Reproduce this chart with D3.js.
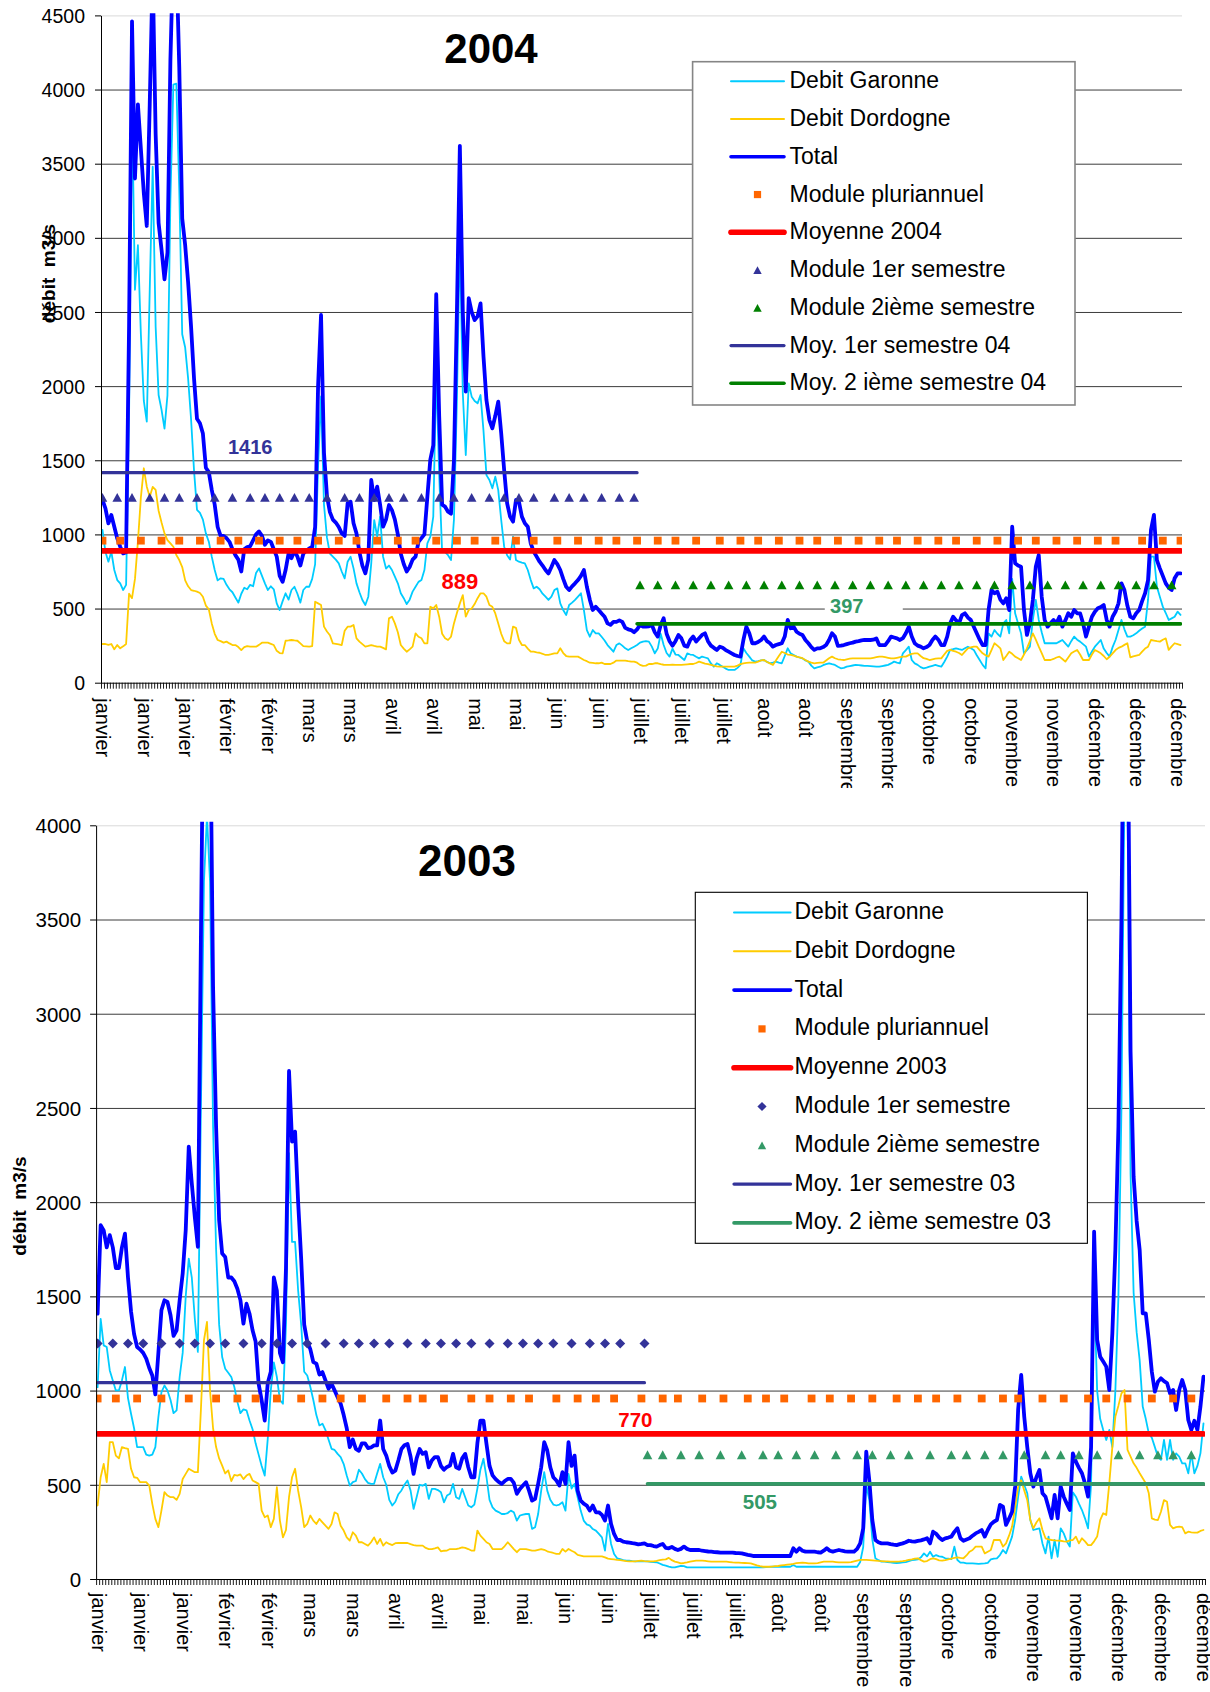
<!DOCTYPE html>
<html>
<head>
<meta charset="utf-8">
<script src="https://cdn.jsdelivr.net/npm/d3@7/dist/d3.min.js"></script>
<style>
  html, body { margin: 0; padding: 0; background: #fff; }
  svg text { font-family: "Liberation Sans", Arial, Helvetica, sans-serif; }
</style>
</head>
<body>
<svg id="chart" width="1210" height="1692"></svg>
<script>
// ---------------------------------------------------------------------------
// Daily river flows (m3/s), one value per day of the year, index = day - 1.
// ---------------------------------------------------------------------------

// 2004 (leap year, 366 days)
const total2004 = [
  1232,1176,1075,1131,1052,973,917,872,880,2400,
  4460,3400,3900,3600,3300,3080,3900,4800,3700,3100,
  2920,2720,2900,4200,4950,4900,4150,3130,2950,2700,
  2400,2050,1780,1750,1680,1450,1420,1300,1200,1050,
  990,990,975,950,900,860,830,750,900,915,
  920,960,1000,1020,990,930,960,950,900,850,
  720,680,760,870,840,890,850,790,870,890,
  905,915,1050,2000,2480,1550,1260,1150,1100,1080,
  1050,1007,990,1210,1221,1075,1007,880,790,737,
  830,1367,1232,1322,1200,1052,1100,1198,1164,1100,
  1000,870,800,750,780,830,850,950,975,1000,
  1254,1505,1600,2620,1800,1200,1187,1153,1140,1500,
  2500,3620,2500,1963,2593,2500,2445,2470,2558,2200,
  1906,1771,1715,1800,1895,1681,1434,1210,1120,1086,
  1232,1221,1120,1075,1052,940,884,850,816,790,
  760,737,780,827,800,760,700,647,625,650,
  670,692,720,760,647,560,490,512,490,467,
  445,400,390,410,410,420,410,370,360,355,
  340,360,389,378,378,380,389,340,311,389,
  434,330,280,250,280,322,299,250,243,288,
  311,277,300,322,333,280,250,235,221,243,
  235,220,209,198,187,180,176,288,378,333,
  266,266,275,288,311,280,266,243,254,260,
  266,311,423,367,378,344,330,322,288,266,
  240,221,232,232,240,254,288,333,311,248,
  250,254,260,266,270,277,280,285,288,288,
  288,290,299,254,254,254,280,311,305,299,
  288,300,333,378,311,266,250,243,232,240,
  254,288,311,290,254,254,311,400,445,420,
  400,456,468,440,423,378,333,290,254,254,
  490,625,603,614,560,535,569,490,1052,805,
  790,782,490,322,400,558,782,861,580,423,
  378,400,423,400,445,378,420,468,445,490,
  468,468,400,311,380,445,479,502,510,524,
  423,378,445,480,535,670,625,520,445,434,
  468,490,550,603,692,1030,1131,827,771,720,
  670,640,625,704,737,737
];

const garonne2004 = [
  1030,883,816,883,760,692,670,625,660,1800,
  3890,2650,2950,2350,1900,1760,2650,3480,2400,1940,
  1840,1713,1938,3260,4033,4040,3320,2350,2260,2050,
  1775,1430,1166,1145,1100,1007,951,850,760,690,
  704,700,660,630,610,575,540,600,640,630,
  660,650,740,771,720,670,625,650,630,535,
  490,550,603,560,625,647,600,540,625,647,
  647,700,800,1460,1930,1200,980,870,850,830,
  805,750,704,816,850,771,670,610,558,524,
  580,805,1097,985,1120,850,770,790,760,715,
  670,603,570,530,560,614,647,680,692,760,
  940,985,1120,2100,1400,880,880,860,827,1100,
  1900,3000,1950,1535,2019,1929,1900,1884,1940,1700,
  1400,1367,1311,1389,1299,1097,917,860,830,985,
  827,816,810,805,760,692,636,647,630,600,
  580,558,580,625,636,535,490,456,524,540,
  558,580,603,490,355,310,355,333,333,310,
  285,254,232,209,254,265,250,232,220,232,
  243,254,270,277,280,277,243,198,230,330,
  254,200,176,230,190,187,170,153,198,190,
  187,175,164,176,170,164,130,108,131,120,
  108,95,86,86,86,100,120,232,200,176,
  150,142,145,150,153,140,131,136,142,136,
  131,180,232,198,187,176,170,164,150,142,
  115,97,103,108,118,125,131,125,120,108,
  97,100,108,112,116,120,118,116,114,113,
  112,110,108,108,112,116,120,130,142,136,
  131,198,220,243,153,130,120,105,97,102,
  108,114,120,114,108,140,176,221,226,232,
  226,221,232,243,232,221,185,153,120,97,
  333,311,355,330,311,400,423,333,700,468,
  400,333,198,220,243,423,558,423,340,266,
  266,266,266,266,277,288,265,243,280,311,
  290,277,260,243,176,210,243,265,288,230,
  200,176,240,288,355,423,360,311,311,320,
  333,350,365,378,558,850,850,647,580,513,
  470,423,434,445,479,457
];

const dordogne2004 = [
  261,261,255,261,225,254,232,245,261,600,
  570,700,950,1250,1446,1322,1254,1320,1300,1160,
  1080,1007,962,940,917,861,827,780,690,650,
  625,620,614,605,580,520,495,400,330,288,
  280,270,277,265,254,254,240,220,240,247,
  243,243,243,255,270,270,270,262,254,215,
  200,198,283,285,288,285,283,265,247,245,
  243,247,546,535,524,378,345,320,265,262,
  259,254,350,378,378,389,299,277,260,243,
  248,254,248,243,243,235,225,434,445,400,
  340,254,230,209,225,243,333,310,300,265,
  265,512,501,524,445,330,300,288,310,400,
  470,535,591,445,490,500,530,570,603,603,
  580,524,512,467,400,330,280,265,265,378,
  370,290,254,254,230,209,209,205,202,195,
  187,187,192,198,198,232,200,180,176,176,
  176,176,165,153,145,135,133,131,131,135,
  126,126,126,135,149,149,149,149,145,142,
  142,135,120,113,115,126,126,131,131,125,
  121,120,120,122,120,120,120,122,124,126,
  126,133,142,135,128,125,120,115,110,108,
  108,108,108,108,108,115,125,131,133,135,
  135,135,142,150,153,140,130,120,150,180,
  209,200,190,187,182,176,170,165,153,142,
  135,131,133,135,135,150,165,176,165,158,
  155,153,158,162,164,164,164,164,164,164,
  164,168,172,176,176,172,168,164,164,168,
  172,176,176,186,195,198,198,180,165,160,
  153,158,162,164,164,190,215,221,215,209,
  200,187,210,232,238,243,243,220,198,185,
  176,220,266,250,232,153,180,209,195,176,
  165,153,190,232,280,333,290,243,200,153,
  153,153,160,170,176,160,142,170,198,210,
  221,190,153,153,153,190,221,210,198,180,
  158,175,198,220,235,243,255,266,171,178,
  183,187,210,230,243,288,284,280,277,290,
  299,221,245,266,260,254
];

// 2003 (365 days)
const total2003 = [
  1408,1878,1850,1760,1825,1760,1650,1650,1760,1833,
  1600,1420,1300,1231,1218,1200,1170,1120,1080,980,
  1200,1426,1479,1470,1400,1290,1320,1479,1621,1851,
  2295,2100,1920,1763,3400,5000,5400,4700,3144,2400,
  1904,1727,1709,1600,1600,1580,1540,1480,1355,1461,
  1408,1320,1260,1036,948,841,1040,1100,1600,1530,
  1200,1150,1650,2696,2321,2374,2000,1700,1350,1260,
  1220,1151,1143,1085,1098,1054,1010,1036,1001,965,
  930,870,800,700,740,690,680,720,720,695,
  698,709,709,841,690,655,600,565,575,630,
  690,710,717,650,558,640,690,664,673,593,
  629,647,647,600,580,595,602,664,593,585,
  640,664,593,540,540,720,841,841,717,600,
  550,530,515,505,520,531,531,510,452,478,
  496,514,469,416,425,505,593,726,682,593,
  540,523,496,567,505,726,600,655,469,416,
  400,390,363,390,354,354,340,310,390,292,
  239,207,207,198,195,193,190,188,184,186,
  189,180,180,175,172,180,186,165,163,170,
  160,154,160,172,160,154,154,154,154,150,
  148,146,145,143,142,140,140,140,140,140,
  138,137,136,132,128,125,122,122,122,122,
  122,122,122,122,122,122,122,122,122,163,
  145,163,150,145,145,145,145,142,140,150,
  163,150,145,150,154,150,147,145,145,145,
  160,189,269,676,525,313,207,195,189,189,
  189,185,182,180,185,189,195,203,200,198,
  202,205,210,216,189,251,240,220,207,216,
  220,225,250,269,216,203,210,216,230,242,
  250,260,225,260,290,304,313,393,384,287,
  320,357,490,900,1083,862,700,561,490,540,
  579,455,437,380,322,446,322,490,437,400,
  366,667,623,590,561,508,437,700,1844,1269,
  1180,1154,1127,1003,1304,1750,2400,3500,5200,4800,
  2800,2135,1900,1746,1410,1410,1269,1100,994,1047,
  1065,1050,1040,985,1003,897,1003,1056,1003,844,
  791,840,791,915,1074
];

const garonne2003 = [
  1018,1380,1240,1231,1107,1054,1001,1001,1054,1125,
  960,877,800,700,700,700,660,655,660,700,
  859,990,1027,1000,950,880,895,1072,1200,1500,
  1700,1600,1380,1205,2500,3700,4050,3700,2400,1750,
  1350,1178,1116,1095,1072,1019,940,880,900,895,
  841,795,720,660,600,549,744,1001,1150,1072,
  950,930,1350,2260,1789,1789,1531,1350,1100,1080,
  1020,950,870,815,824,790,740,691,685,664,
  647,610,549,496,514,520,580,560,530,510,
  505,505,560,611,540,500,420,390,410,450,
  470,500,523,470,372,434,500,495,505,425,
  478,478,472,460,407,443,452,505,434,425,
  478,434,390,381,395,480,580,638,540,420,
  380,363,355,345,345,350,363,354,310,337,
  342,345,345,266,275,345,469,567,469,420,
  395,390,395,407,363,558,480,505,434,363,
  310,290,283,265,257,239,221,151,292,186,
  133,110,106,100,97,97,95,94,94,94,
  94,93,91,90,89,82,75,71,66,62,
  62,66,70,68,62,62,62,62,62,62,
  62,62,62,62,62,62,62,62,62,62,
  62,62,62,62,62,62,62,62,62,62,
  63,64,65,65,65,65,65,65,65,74,
  65,65,65,65,65,65,65,65,65,65,
  65,65,65,65,65,65,65,65,65,65,
  65,90,170,500,420,210,110,100,92,92,
  90,88,86,85,86,88,90,95,100,102,
  104,115,136,120,145,118,127,120,118,110,
  108,105,172,101,87,87,83,83,83,82,
  80,82,83,86,104,108,110,127,154,136,
  180,225,313,437,543,500,455,313,260,265,
  269,189,136,225,110,207,118,269,242,200,
  172,460,437,400,366,322,269,500,1550,1000,
  850,791,738,791,700,1000,1500,2500,4200,4100,
  2150,1520,1310,1160,915,850,773,750,700,649,
  632,738,632,738,632,667,650,614,614,561,
  667,561,600,667,826
];

const dordogne2003 = [
  390,540,611,514,726,726,655,640,700,695,
  691,585,540,537,514,514,514,496,399,319,
  275,363,461,443,434,434,420,452,531,558,
  585,576,567,567,900,1267,1364,1000,800,700,
  640,602,560,576,520,553,549,555,530,549,
  558,523,514,505,363,328,337,275,319,487,
  310,221,260,434,540,585,469,381,275,292,
  337,310,292,319,301,283,266,292,354,345,
  283,257,221,204,248,230,195,195,186,177,
  195,221,186,213,177,195,186,180,190,191,
  191,191,191,185,180,177,177,177,165,159,
  159,163,168,147,150,151,159,159,159,163,
  168,165,159,151,151,257,230,213,195,186,
  159,159,159,159,175,195,177,159,142,159,
  159,159,155,151,151,155,159,155,147,142,
  138,133,133,159,145,159,150,142,128,124,
  120,120,120,120,120,120,120,115,108,106,
  104,101,100,97,95,94,94,94,96,97,
  95,94,94,94,96,100,103,104,112,100,
  92,88,83,85,88,92,95,97,97,97,
  96,94,92,92,92,92,92,92,90,88,
  87,87,86,85,84,83,78,72,68,65,
  65,65,66,68,69,72,74,76,78,80,
  84,86,87,86,83,83,83,84,88,92,
  92,92,92,90,88,88,88,88,90,94,
  98,101,101,101,100,99,98,96,95,94,
  93,92,92,92,93,95,98,102,104,108,
  110,100,92,95,105,110,105,99,97,100,
  104,108,112,115,112,110,125,145,154,172,
  172,172,136,145,154,207,207,207,172,189,
  230,278,380,490,525,470,419,313,269,300,
  322,260,216,210,207,205,204,203,200,198,
  205,207,225,189,216,200,180,180,200,225,
  313,349,340,508,700,862,920,985,1003,685,
  650,614,590,561,535,508,455,322,315,313,
  357,419,410,287,269,275,278,275,242,251,
  248,246,246,255,260
];

// Category labels shown every 14 days along the date axis
const months2004 = ['janvier','janvier','janvier','février','février','mars','mars','avril','avril',
  'mai','mai','juin','juin','juillet','juillet','juillet','août','août','septembre','septembre',
  'octobre','octobre','novembre','novembre','décembre','décembre','décembre'];
const months2003 = ['janvier','janvier','janvier','février','février','mars','mars','avril','avril',
  'mai','mai','juin','juin','juillet','juillet','juillet','août','août','septembre','septembre',
  'octobre','octobre','novembre','novembre','décembre','décembre','décembre'];
const labelEvery = 14;

// Reference flows (m3/s)
const modulePluriannuel = 958;
const module1erSemestre = 1250;
const module2emeSemestre = 660;

const moyenne2004 = 889, moy1erSem2004 = 1416, moy2emeSem2004 = 397;
const moyenne2003 = 770, moy1erSem2003 = 1042, moy2emeSem2003 = 505;

// Days on which the reference modules are plotted
const pluriDays2004 = [0,6,13,20,26,33,40,46,53,60,66,73,80,86,93,100,106,113,120,126,133,140,146,154,161,168,174,
  181,188,194,201,209,216,222,229,236,242,249,256,263,269,276,283,289,296,303,310,316,323,330,337,343,352,359,365];
const mod1Days2004 = [0,5,10,16,21,26,32,38,44,50,55,60,65,70,76,82,87,92,97,102,108,114,119,125,131,136,141,146,
  153,158,163,169,175,180];
const mod2Days2004 = [182,188,194,200,206,212,218,224,230,236,242,248,254,260,266,272,278,284,290,296,302,308,314,
  320,326,332,338,344,350,356,362];

const pluriDays2003 = [0,6,13,21,30,39,46,52,59,67,74,80,87,95,102,107,114,123,129,136,142,151,158,164,170,179,186,
  191,199,206,214,220,226,235,241,248,255,263,270,276,283,291,298,303,311,318,326,332,339,347,354,360];
const mod1Days2003 = [0,5,10,15,21,27,32,37,42,48,54,59,64,69,75,81,86,91,96,102,108,113,118,123,129,135,140,145,
  150,156,162,167,172,180];
const mod2Days2003 = [181,186,192,198,205,212,219,224,230,236,243,250,255,261,267,274,281,286,292,298,305,312,317,
  323,329,336,343,349,354,360];

const legend2004 = ['Debit Garonne','Debit Dordogne','Total','Module pluriannuel','Moyenne 2004',
  'Module 1er semestre','Module 2ième semestre','Moy. 1er semestre 04','Moy. 2 ième semestre 04'];
const legend2003 = ['Debit Garonne','Debit Dordogne','Total','Module pluriannuel','Moyenne 2003',
  'Module 1er semestre','Module 2ième semestre','Moy. 1er semestre 03','Moy. 2 ième semestre 03'];

// ---------------------------------------------------------------------------
const svg = d3.select('#chart');
svg.append('rect').attr('width', 1210).attr('height', 1692).attr('fill', '#fff');
const defs = svg.append('defs');

const COLORS = {
  garonne: '#00CCFF', dordogne: '#FFCC00', total: '#0000FF',
  pluri: '#FF6600', moyenne: '#FF0000', navy: '#333399'
};

function trianglePath(w, h) { return `M0,${-h / 2}L${w / 2},${h / 2}L${-w / 2},${h / 2}Z`; }
function diamondPath(r) { return `M0,${-r}L${r},0L0,${r}L${-r},0Z`; }

function drawPanel(p) {
  const n = p.total.length;
  const x = d3.scaleLinear().domain([0, n]).range([p.left, p.right]);
  const y = d3.scaleLinear().domain([0, p.yMax]).range([p.bottom, p.top]);
  const cx = d => x(d + 0.5);

  defs.append('clipPath').attr('id', 'plot-' + p.id).append('rect')
    .attr('x', p.left).attr('y', p.top - p.clipPad)
    .attr('width', p.right - p.left).attr('height', p.bottom - p.top + p.clipPad);
  defs.append('clipPath').attr('id', 'lab-' + p.id).append('rect')
    .attr('x', 0).attr('y', p.bottom + 8).attr('width', 1210).attr('height', p.labelClip - p.bottom - 8);

  const g = svg.append('g');

  // horizontal gridlines
  const grid = g.append('g').attr('transform', `translate(${p.left},0)`)
    .call(d3.axisLeft(y).tickValues(d3.range(500, p.yMax + 1, 500))
      .tickSize(-(p.right - p.left)).tickFormat(''));
  grid.select('.domain').remove();
  grid.selectAll('.tick line')
    .attr('stroke', d => d === p.yMax ? '#d9d9d9' : '#3c3c3c')
    .attr('stroke-width', 1);

  // flow series
  const plot = g.append('g').attr('clip-path', `url(#plot-${p.id})`);
  const line = d3.line().x((v, i) => cx(i)).y(v => y(v));
  [[p.garonne, COLORS.garonne, 1.8], [p.dordogne, COLORS.dordogne, 1.8], [p.total, COLORS.total, 3.8]]
    .forEach(([data, color, w]) => {
      plot.append('path').datum(data).attr('d', line)
        .attr('fill', 'none').attr('stroke', color).attr('stroke-width', w)
        .attr('stroke-linejoin', 'round').attr('stroke-linecap', 'round');
    });

  // multi-year module (squares)
  plot.append('g').selectAll('rect').data(p.pluriDays).join('rect')
    .attr('x', d => cx(d) - 3.9).attr('y', y(modulePluriannuel) - 3.9)
    .attr('width', 7.8).attr('height', 7.8).attr('fill', COLORS.pluri);

  // annual mean
  const flat = d3.line().x(d => cx(d[0])).y(d => y(d[1]));
  plot.append('path').datum([[0, p.mean], [n - 1, p.mean]]).attr('d', flat)
    .attr('stroke', COLORS.moyenne).attr('stroke-width', 5.6).attr('stroke-linecap', 'round').attr('fill', 'none');

  // first-half module
  plot.append('g').selectAll('path').data(p.mod1Days).join('path')
    .attr('transform', d => `translate(${cx(d)},${y(module1erSemestre)})`)
    .attr('d', p.mod1Shape === 'diamond' ? diamondPath(5) : trianglePath(p.mod2W, p.mod2H))
    .attr('fill', COLORS.navy);
  // second-half module
  plot.append('g').selectAll('path').data(p.mod2Days).join('path')
    .attr('transform', d => `translate(${cx(d)},${y(module2emeSemestre)})`)
    .attr('d', trianglePath(p.mod2W, p.mod2H))
    .attr('fill', p.mod2Color);

  // half-year means
  plot.append('path').datum([[0, p.mean1], [p.firstEnd, p.mean1]]).attr('d', flat)
    .attr('stroke', COLORS.navy).attr('stroke-width', 3.2).attr('stroke-linecap', 'round').attr('fill', 'none');
  plot.append('path').datum([[p.secondStart, p.mean2], [n - 1, p.mean2]]).attr('d', flat)
    .attr('stroke', p.mean2Color).attr('stroke-width', 3.6).attr('stroke-linecap', 'round').attr('fill', 'none');

  // value labels of the means
  p.labels.forEach(l => {
    const lx = cx(l.day), ly = y(l.value) + l.dy;
    if (l.box) {
      g.append('rect').attr('x', lx - l.box[0]).attr('y', ly - l.box[1])
        .attr('width', l.box[2]).attr('height', l.box[3]).attr('fill', '#fff');
    }
    g.append('text').attr('x', lx).attr('y', ly).attr('text-anchor', 'middle')
      .attr('font-weight', 'bold').attr('font-size', l.size).attr('fill', l.color)
      .text(String(l.value));
  });

  // y axis
  const ya = g.append('g').attr('transform', `translate(${p.left},0)`)
    .call(d3.axisLeft(y).tickValues(d3.range(0, p.yMax + 1, 500))
      .tickSize(6).tickPadding(p.yPad).tickSizeOuter(0).tickFormat(d3.format('d')));
  ya.select('.domain').attr('stroke', '#000');
  ya.selectAll('.tick line').attr('stroke', '#000');
  ya.selectAll('.tick text').attr('font-size', p.yFont).attr('fill', '#000')
    .attr('font-family', null).attr('dy', '0.36em');

  // x axis: one tick per day
  const xa = g.append('g').attr('transform', `translate(0,${p.bottom})`)
    .call(d3.axisBottom(x).tickValues(d3.range(0, n + 1)).tickSize(6).tickFormat('').tickSizeOuter(0));
  xa.select('.domain').attr('stroke', '#000');
  xa.selectAll('.tick line').attr('stroke', '#000').attr('stroke-width', 0.9);

  // x axis: month labels every 14 days, written vertically
  const labWrap = g.append('g').attr('clip-path', `url(#lab-${p.id})`);
  const xl = labWrap.append('g').attr('transform', `translate(0,${p.bottom})`)
    .call(d3.axisBottom(x)
      .tickValues(d3.range(0, n, labelEvery).map(d => d + 0.5))
      .tickSize(0).tickFormat((d, i) => p.months[i]));
  xl.select('.domain').remove();
  xl.selectAll('.tick text')
    .attr('transform', 'rotate(90)')
    .attr('x', p.labelOffset).attr('y', 0).attr('dy', '0.33em')
    .attr('text-anchor', 'start').attr('font-size', 20).attr('fill', '#000')
    .attr('font-family', null);

  // title
  g.append('text').attr('x', p.title.x).attr('y', p.title.y).attr('text-anchor', 'middle')
    .attr('font-weight', 'bold').attr('font-size', p.title.size).attr('fill', '#000').text(p.year);

  // y axis title
  g.append('text')
    .attr('transform', `translate(${p.yTitle.x},${p.yTitle.y}) rotate(-90)`)
    .attr('text-anchor', 'middle').attr('font-weight', 'bold').attr('font-size', 19)
    .style('white-space', 'pre').attr('fill', '#000').text('débit  m3/s');

  // legend
  const L = p.legend;
  const lg = g.append('g');
  lg.append('rect').attr('x', L.x).attr('y', L.y).attr('width', L.w).attr('height', L.h)
    .attr('fill', '#fff').attr('stroke', L.stroke).attr('stroke-width', L.sw);
  const keys = [
    { kind: 'line', color: COLORS.garonne, w: 2 },
    { kind: 'line', color: COLORS.dordogne, w: 2 },
    { kind: 'line', color: COLORS.total, w: 3.6 },
    { kind: 'square', color: COLORS.pluri },
    { kind: 'line', color: COLORS.moyenne, w: 5.6 },
    { kind: p.mod1Shape, color: COLORS.navy },
    { kind: 'triangle', color: p.mod2Color },
    { kind: 'line', color: COLORS.navy, w: 3.2 },
    { kind: 'line', color: p.mean2Color, w: 3.6 }
  ];
  p.legendNames.forEach((name, i) => {
    const base = L.base + i * L.step;
    const sy = base - L.off;
    const k = keys[i];
    if (k.kind === 'line') {
      lg.append('line').attr('x1', L.lx0).attr('x2', L.lx1).attr('y1', sy).attr('y2', sy)
        .attr('stroke', k.color).attr('stroke-width', k.w).attr('stroke-linecap', 'round');
    } else if (k.kind === 'square') {
      lg.append('rect').attr('x', L.mx - 3.6).attr('y', sy - 3.6).attr('width', 7.2).attr('height', 7.2)
        .attr('fill', k.color);
    } else if (k.kind === 'diamond') {
      lg.append('path').attr('transform', `translate(${L.mx},${sy})`).attr('d', diamondPath(4.6)).attr('fill', k.color);
    } else {
      lg.append('path').attr('transform', `translate(${L.mx},${sy})`).attr('d', trianglePath(8.4, 7.8)).attr('fill', k.color);
    }
    lg.append('text').attr('x', L.tx).attr('y', base).attr('font-size', L.font).attr('fill', '#000').text(name);
  });
}

drawPanel({
  id: 'y2004', year: '2004',
  left: 101, right: 1182, top: 15.4, bottom: 682.7, yMax: 4500, clipPad: 2.2,
  total: total2004, garonne: garonne2004, dordogne: dordogne2004, months: months2004,
  yFont: 19.5, yPad: 10, labelOffset: 15.6, labelClip: 788,
  title: { x: 491, y: 63.3, size: 42 }, yTitle: { x: 55, y: 273.5 },
  pluriDays: pluriDays2004, mod1Days: mod1Days2004, mod2Days: mod2Days2004,
  mod1Shape: 'triangle', mod2Color: '#008000', mod2W: 9.6, mod2H: 8.6,
  mean: moyenne2004, mean1: moy1erSem2004, mean2: moy2emeSem2004,
  firstEnd: 181, secondStart: 181, mean2Color: '#008000',
  labels: [
    { value: moy1erSem2004, day: 50, dy: -18.5, color: '#333399', size: 20 },
    { value: moyenne2004, day: 121, dy: 38, color: '#FF0000', size: 22 },
    { value: moy2emeSem2004, day: 252, dy: -10.5, color: '#339966', size: 20, box: [22, 15.5, 78, 19] }
  ],
  legendNames: legend2004,
  legend: { x: 692.6, y: 61.7, w: 382.4, h: 343.3, stroke: '#858585', sw: 1.6,
    base: 88.3, step: 37.75, off: 7, lx0: 731, lx1: 784, mx: 757.5, tx: 789.5, font: 23 }
});

drawPanel({
  id: 'y2003', year: '2003',
  left: 96.1, right: 1205, top: 825.3, bottom: 1579, yMax: 4000, clipPad: 3.5,
  total: total2003, garonne: garonne2003, dordogne: dordogne2003, months: months2003,
  yFont: 20.5, yPad: 9, labelOffset: 14, labelClip: 1692,
  title: { x: 467, y: 876, size: 44 }, yTitle: { x: 26, y: 1206 },
  pluriDays: pluriDays2003, mod1Days: mod1Days2003, mod2Days: mod2Days2003,
  mod1Shape: 'diamond', mod2Color: '#339966', mod2W: 9.6, mod2H: 9,
  mean: moyenne2003, mean1: moy1erSem2003, mean2: moy2emeSem2003,
  firstEnd: 180, secondStart: 181, mean2Color: '#339966',
  labels: [
    { value: moyenne2003, day: 177, dy: -7, color: '#FF0000', size: 20.5 },
    { value: moy2emeSem2003, day: 218, dy: 25, color: '#339966', size: 20.5 }
  ],
  legendNames: legend2003,
  legend: { x: 695.3, y: 892.3, w: 392.1, h: 351, stroke: '#000', sw: 1.1,
    base: 919, step: 38.8, off: 6.5, lx0: 734, lx1: 790.6, mx: 762, tx: 794.5, font: 23 }
});
</script>
</body>
</html>
